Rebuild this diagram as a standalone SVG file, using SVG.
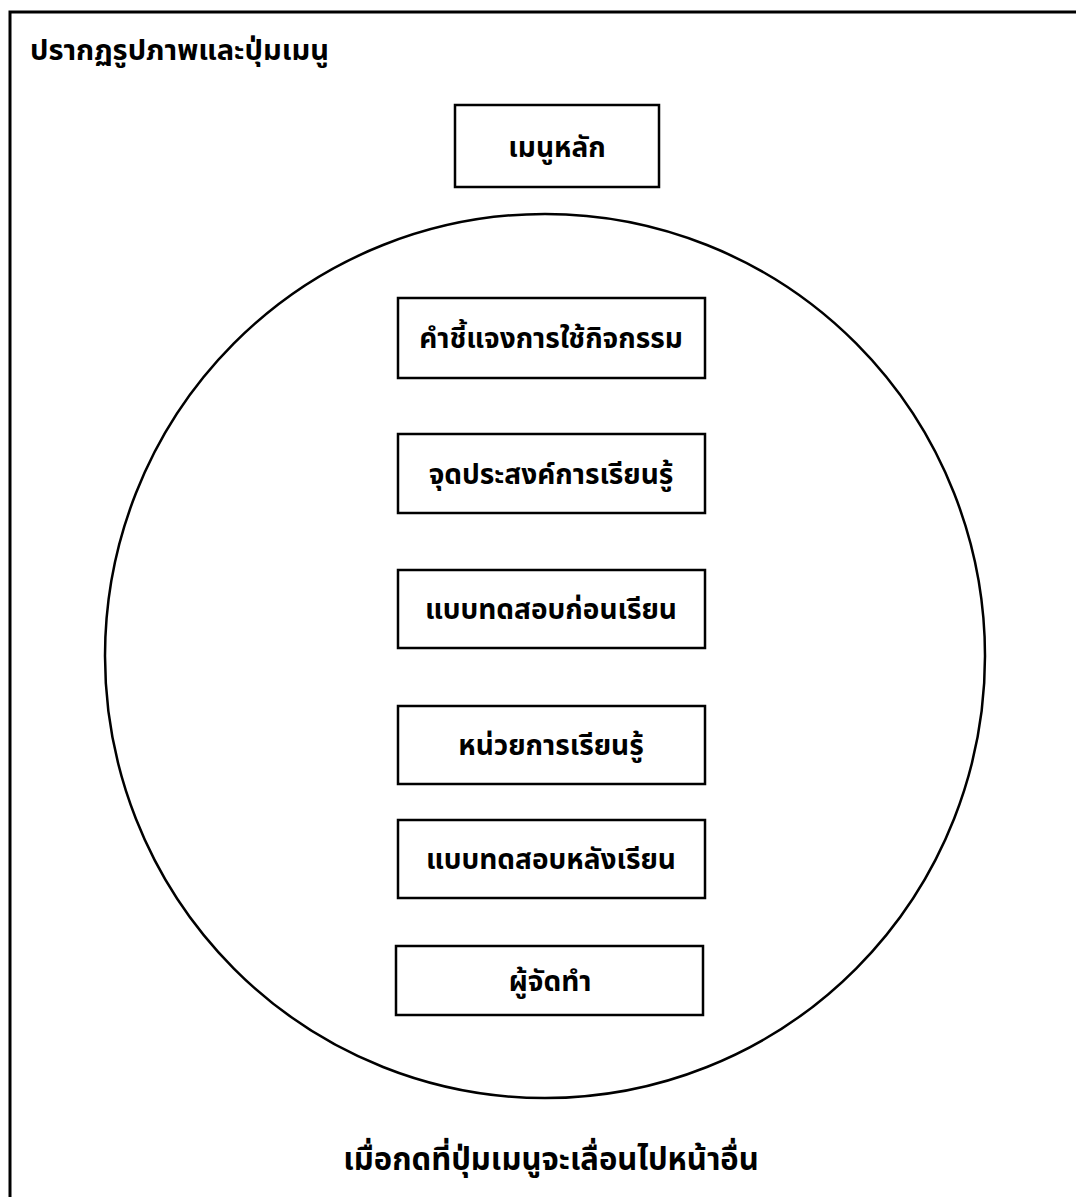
<svg xmlns="http://www.w3.org/2000/svg" width="1076" height="1197" viewBox="0 0 1076 1197">
<style>
.frame{fill:none;stroke:#000;stroke-width:3}
.box{fill:#fff;stroke:#000;stroke-width:2.5}
.ring{fill:none;stroke:#000;stroke-width:2.5}
text{font-family:"Noto Sans Thai","Noto Sans","DejaVu Sans",sans-serif;font-weight:bold;fill:#000}
.lbl{font-size:28px;text-anchor:middle}
.title{font-size:29px}
.note{font-size:31px;text-anchor:middle}
</style>
<rect width="1076" height="1197" fill="#fff"/>
<rect class="frame" x="10" y="12" width="1080" height="1200"/>
<text class="title" x="30" y="60">ปรากฏรูปภาพและปุ่มเมนู</text>
<ellipse class="ring" cx="545" cy="656" rx="440" ry="442"/>
<g id="node-main"><rect class="box" x="455" y="105" width="204" height="82"/><text class="lbl" x="557" y="157">เมนูหลัก</text></g>
<g id="node-instructions"><rect class="box" x="398" y="298" width="307" height="80"/><text class="lbl" x="551" y="348">คำชี้แจงการใช้กิจกรรม</text></g>
<g id="node-objectives"><rect class="box" x="398" y="434" width="307" height="79"/><text class="lbl" x="551" y="484">จุดประสงค์การเรียนรู้</text></g>
<g id="node-pretest"><rect class="box" x="398" y="570" width="307" height="78"/><text class="lbl" x="551" y="619">แบบทดสอบก่อนเรียน</text></g>
<g id="node-units"><rect class="box" x="398" y="706" width="307" height="78"/><text class="lbl" x="551" y="755">หน่วยการเรียนรู้</text></g>
<g id="node-posttest"><rect class="box" x="398" y="820" width="307" height="78"/><text class="lbl" x="551" y="869">แบบทดสอบหลังเรียน</text></g>
<g id="node-credits"><rect class="box" x="396" y="946" width="307" height="69"/><text class="lbl" x="550" y="991">ผู้จัดทำ</text></g>
<g id="connectors"></g>
<text class="note" x="551" y="1170">เมื่อกดที่ปุ่มเมนูจะเลื่อนไปหน้าอื่น</text>
</svg>
